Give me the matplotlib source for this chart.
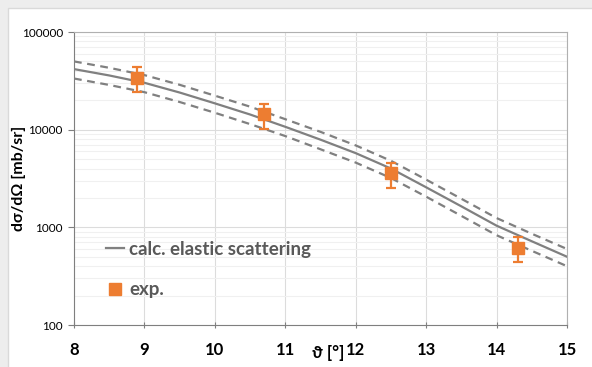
import numpy as np
import matplotlib
matplotlib.use("Agg")
import matplotlib.pyplot as plt
from matplotlib.patches import Rectangle
from matplotlib.ticker import LogLocator, NullFormatter, FixedLocator

plt.rcParams['font.family'] = ['Lato', 'DejaVu Sans']

# calculated cross section
theta_calc = [8, 8.5, 9, 9.5, 10, 10.5, 11, 11.5, 12, 12.5, 13, 13.5, 14, 14.5, 15]
xs_calc = [41700, 35900, 30200, 24000, 18600, 14300, 10700, 7900, 5750, 4000,
           2570, 1640, 1040, 720, 500]
xs_upper = [50000, 43000, 36200, 28800, 22300, 17200, 12800, 9500, 6900, 4800,
            3080, 1960, 1245, 860, 600]
xs_lower = [33400, 28700, 24200, 19200, 14900, 11400, 8600, 6300, 4600, 3200,
            2060, 1310, 830, 575, 400]

# experimental points
theta_exp = [8.9, 10.7, 12.5, 14.3]
xs_exp = [34000, 14500, 3600, 615]
xs_exp_lo = [24300, 10200, 2530, 443]
xs_exp_hi = [43800, 18300, 4560, 798]

x_ticks = [8, 9, 10, 11, 12, 13, 14, 15]
y_ticks = [100, 1000, 10000, 100000]

grey = "#808080"
orange = "#ED7D31"

fig = plt.figure(figsize=(5.92, 3.67), dpi=100)
fig.patch.set_facecolor("#ededed")
fig.patches.append(Rectangle((8 / 592, -0.01), 1, 1.01 - 8 / 367, transform=fig.transFigure,
                             facecolor="white", edgecolor="#d9d9d9", lw=1, zorder=-5))

ax = fig.add_axes([74 / 592, 1 - 325 / 367, 493 / 592, 293 / 367])
ax.set_facecolor("white")
ax.set_yscale("log")
ax.set_xlim(8, 15)
ax.set_ylim(100, 100000)

ax.plot(theta_calc, xs_upper, color=grey, lw=1.6, dashes=(3.5, 2.5), zorder=3)
ax.plot(theta_calc, xs_lower, color=grey, lw=1.6, dashes=(3.5, 2.5), zorder=3)
ax.plot(theta_calc, xs_calc, color=grey, lw=1.6, zorder=3, label="calc. elastic scattering")

y = np.array(xs_exp)
yerr = [y - np.array(xs_exp_lo), np.array(xs_exp_hi) - y]
ax.errorbar(theta_exp, xs_exp, yerr=yerr, fmt="none", ecolor=orange, elinewidth=1.6,
            capsize=3.5, capthick=1.6, zorder=4)
ax.plot(theta_exp, xs_exp, "s", color=orange, ms=8, zorder=5, label="exp.")

ax.xaxis.set_major_locator(FixedLocator(x_ticks))
ax.yaxis.set_major_locator(FixedLocator(y_ticks))
ax.set_yticklabels([str(v) for v in y_ticks])
ax.yaxis.set_minor_locator(LogLocator(base=10, subs=np.arange(2, 10)))
ax.yaxis.set_minor_formatter(NullFormatter())
ax.grid(True, which="major", color="#dcdcdc", lw=0.8)
ax.grid(True, which="minor", axis="y", color="#f0f0f0", lw=0.8)
ax.set_axisbelow(True)

for s in ["left", "bottom"]:
    ax.spines[s].set_color("#7f7f7f")
for s in ["top", "right"]:
    ax.spines[s].set_color("#b0b0b0")

ax.tick_params(axis="x", direction="inout", length=5, color="#7f7f7f", pad=10,
               labelsize=12)
ax.tick_params(axis="y", direction="out", length=4, color="#7f7f7f", pad=4,
               labelsize=8.5)
ax.tick_params(axis="y", which="minor", length=0)
for lab in ax.get_xticklabels():
    lab.set_fontweight("bold")

ax.set_ylabel("dσ/dΩ [mb/sr]", fontsize=11.5, fontweight="bold")
ax.yaxis.set_label_coords(-0.112, 0.5)
ax.yaxis.label.set_va("center")
ax.set_xlabel("ϑ [°]", fontsize=12, fontweight="bold")
ax.xaxis.set_label_coords(0.515, -0.095)
ax.xaxis.label.set_va("center")

leg = ax.legend(loc="upper left", bbox_to_anchor=(0.03, 0.345), frameon=False,
                handlelength=1.0, handletextpad=0.25, labelspacing=1.25,
                prop={"weight": "bold", "size": 13.5})
for t in leg.get_texts():
    t.set_color("#595959")

fig.savefig("out.png", dpi=100, facecolor=fig.get_facecolor())
